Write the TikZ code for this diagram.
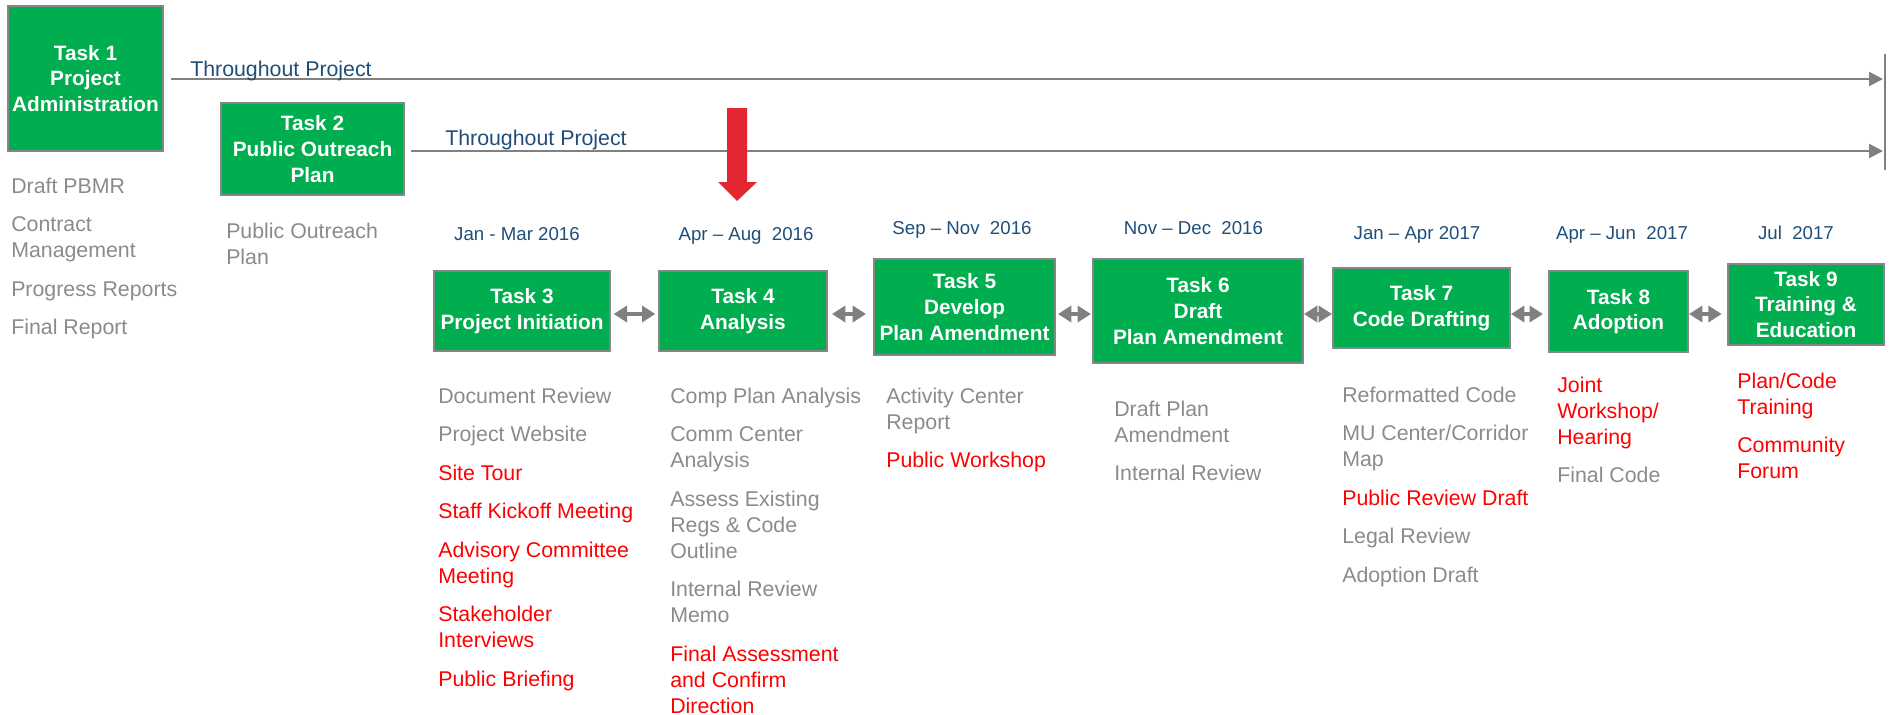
\documentclass[tikz,border=0pt]{standalone}
\usepackage{fontspec}
\setmainfont{Liberation Sans}
\usetikzlibrary{arrows.meta}
\definecolor{tgreen}{RGB}{0,173,79}
\definecolor{tborder}{RGB}{134,134,134}
\definecolor{tgray}{RGB}{137,139,140}
\definecolor{tblue}{RGB}{31,78,121}
\definecolor{tred}{RGB}{255,0,0}
\definecolor{arrred}{RGB}{227,38,50}
\definecolor{lgray}{RGB}{128,128,128}
\newcommand\R[1]{\textcolor{tred}{#1}}
\newcommand\gap{\\[9.4pt]}
\newcommand\lst[1]{\begin{tabular}[t]{@{}l@{}}#1\end{tabular}}
\begin{document}
\begin{tikzpicture}[x=0.75pt,y=-0.75pt,
  task/.style={draw=tborder, line width=1.5pt, fill=tgreen, text=white,
    font=\bfseries\fontsize{15.6}{19.3}\selectfont, align=center, inner sep=0pt},
  sz/.style 2 args={minimum width=#1*0.75pt, minimum height=#2*0.75pt},
  list/.style={anchor=base west, inner sep=0pt, text=tgray,
    font=\fontsize{16}{19.5}\selectfont},
  datelbl/.style={anchor=base, inner sep=0pt, text=tblue, font=\fontsize{14}{17}\selectfont},
  thru/.style={anchor=base west, inner sep=0pt, text=tblue, font=\fontsize{16}{19}\selectfont},
  flow/.style={draw=lgray, line width=1.5pt, -{Triangle[length=10.5pt,width=10.5pt]}},
  dbl/.style={draw=lgray, line width=3.5pt, {Triangle[length=10pt,width=12pt]}-{Triangle[length=10pt,width=12pt]}}
]
\useasboundingbox (0,0) rectangle (1891,714);

% boxes
\node[task, sz={155}{145}] (t1) at (85.5,78.5) {Task 1\\Project\\Administration};
\node[task, sz={183}{92}] (t2) at (312.5,149) {Task 2\\Public Outreach\\Plan};
\node[task, sz={176}{80}] (t3) at (522,311) {Task 3\\Project Initiation};
\node[task, sz={168}{80}] (t4) at (743,311) {Task 4\\Analysis};
\node[task, sz={181}{96}] (t5) at (964.5,307) {Task 5\\Develop\\Plan Amendment};
\node[task, sz={210}{104}] (t6) at (1198,311) {Task 6\\Draft\\Plan Amendment};
\node[task, sz={177}{80}] (t7) at (1421.5,308) {Task 7\\Code Drafting};
\node[task, sz={139}{81}] (t8) at (1618.5,311.5) {Task 8\\Adoption};
\node[task, sz={156}{81}] (t9) at (1806,304.5) {Task 9\\Training \&\\Education};

% throughout lines
\coordinate (e1) at (1883,79);
\coordinate (e2) at (1883,151);
\coordinate (vt) at (1885,54);
\coordinate (vb) at (1885,170);
\draw[lgray, line width=1.5pt] (vt) -- (vb);
\draw[flow, shorten <=5.25pt] (t1.east |- e1) -- (e1);
\draw[flow, shorten <=4.5pt] (t2.east |- e2) -- (e2);
\node[thru] (th1) at (190,76) {Throughout Project};
\node[thru] (th2) at (445,145) {Throughout Project};

% red arrow
\fill[arrred] (727,108) -- (747,108) -- (747,182) -- (757,182) -- (737,201)
  -- (718,182) -- (727,182) -- cycle;

% double arrows
\coordinate (ay) at (0,314);
\draw[dbl, shorten <=2pt, shorten >=2pt] (t3.east |- ay) -- (t4.west |- ay);
\draw[dbl, shorten <=3pt, shorten >=5.25pt] (t4.east |- ay) -- (t5.west |- ay);
\draw[dbl, shorten <=1.5pt, shorten >=0.8pt] (t5.east |- ay) -- (t6.west |- ay);
\draw[dbl, shorten <=0pt, shorten >=0pt] (t6.east |- ay) -- (t7.west |- ay);
\draw[dbl, shorten <=0pt, shorten >=3.75pt] (t7.east |- ay) -- (t8.west |- ay);
\draw[dbl, shorten <=0pt, shorten >=4pt] (t8.east |- ay) -- (t9.west |- ay);

% dates
\node[datelbl] (d3) at (517,240) {Jan - Mar 2016};
\node[datelbl] (d4) at (746,240) {Apr -- Aug\ \ 2016};
\node[datelbl] (d5) at (962,234) {Sep -- Nov\ \ 2016};
\node[datelbl] (d6) at (1193.5,234) {Nov -- Dec\ \ 2016};
\node[datelbl] (d7) at (1417,239) {Jan -- Apr 2017};
\node[datelbl] (d8) at (1622,239) {Apr -- Jun\ \ 2017};
\node[datelbl] (d9) at (1796,239) {Jul\ \ 2017};

% lists
\node[list] (l1) at (11,193) {\lst{Draft PBMR\gap Contract\\Management\gap Progress Reports\gap Final Report}};
\node[list] (l2) at (226,238) {\lst{Public Outreach\\Plan}};
\node[list] (l3) at (438,403) {\lst{Document Review\gap Project Website\gap \R{Site Tour}\gap
  \R{Staff Kickoff Meeting}\gap \R{Advisory Committee}\\\R{Meeting}\gap
  \R{Stakeholder}\\\R{Interviews}\gap \R{Public Briefing}}};
\node[list] (l4) at (670,403) {\lst{Comp Plan Analysis\gap Comm Center\\Analysis\gap
  Assess Existing\\Regs \& Code\\Outline\gap Internal Review\\Memo\gap
  \R{Final Assessment}\\\R{and Confirm}\\\R{Direction}}};
\node[list] (l5) at (886,403) {\lst{Activity Center\\Report\gap \R{Public Workshop}}};
\node[list] (l6) at (1114,416) {\lst{Draft Plan\\Amendment\gap Internal Review}};
\node[list] (l7) at (1342,402) {\lst{Reformatted Code\gap MU Center/Corridor\\Map\gap
  \R{Public Review Draft}\gap Legal Review\gap Adoption Draft}};
\node[list] (l8) at (1557,392) {\lst{\R{Joint}\\\R{Workshop/}\\\R{Hearing}\gap Final Code}};
\node[list] (l9) at (1737,388) {\lst{\R{Plan/Code}\\\R{Training}\gap \R{Community}\\\R{Forum}}};
\end{tikzpicture}
\end{document}
